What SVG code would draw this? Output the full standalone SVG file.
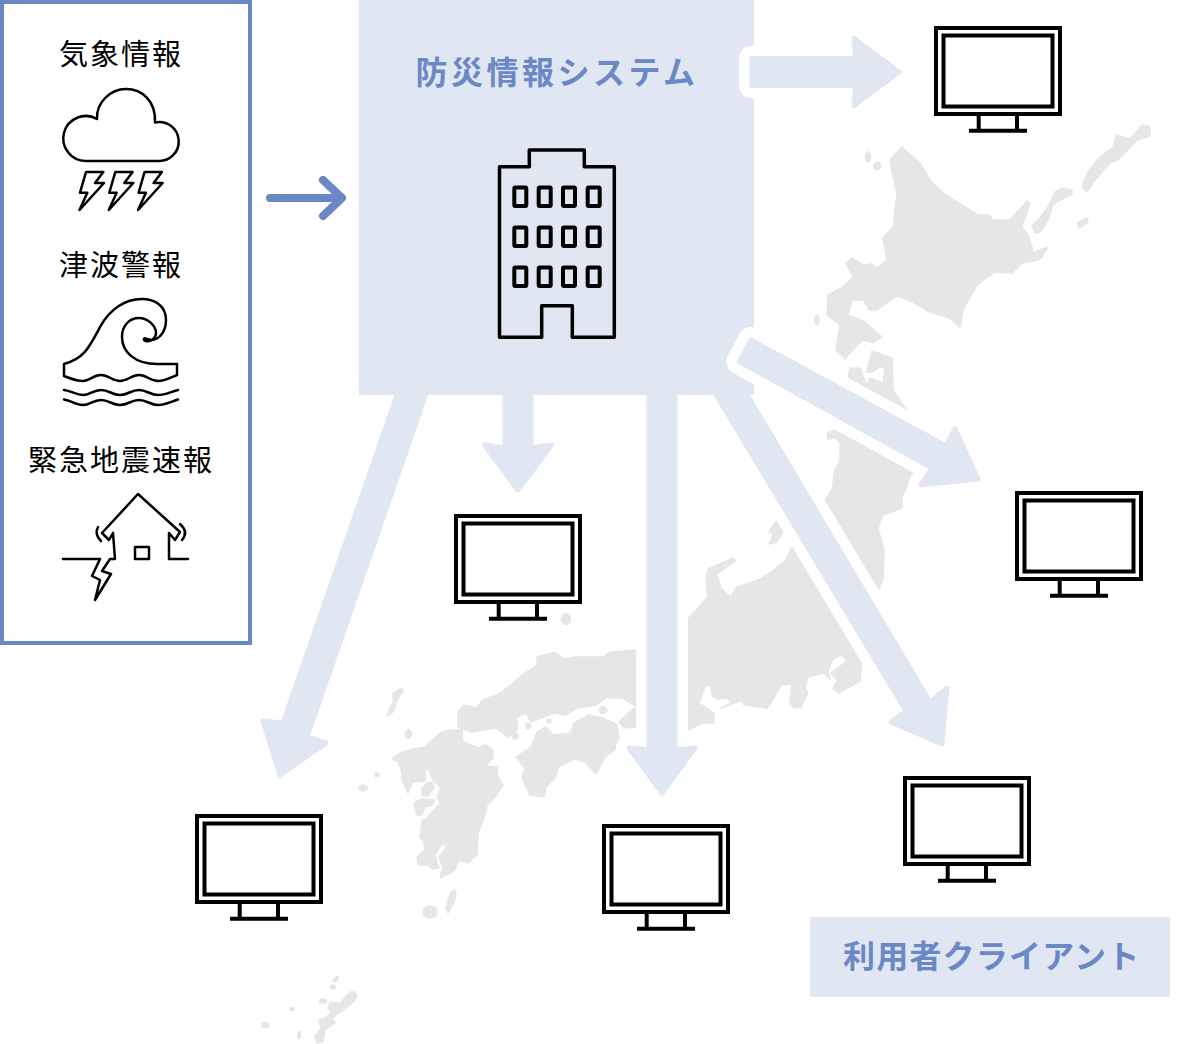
<svg xmlns="http://www.w3.org/2000/svg" width="1200" height="1044" viewBox="0 0 1200 1044">
<style>
.t{font-family:"Noto Sans CJK JP","Liberation Sans",sans-serif;}
.k{font-size:29px;fill:#000;letter-spacing:2px;text-anchor:middle}
.b{font-weight:700;fill:#6a88c5;font-size:32px}
.m path,.m ellipse{fill:#e6e6e6;stroke:#e6e6e6;stroke-width:1.5;stroke-linejoin:round}
.ar{fill:#e0e6f2;stroke:#e0e6f2;stroke-width:5;stroke-linejoin:round}
.ha{fill:#fff;stroke:#fff;stroke-width:26;stroke-linejoin:round}
.pc{fill:#fff;stroke:#000;stroke-width:4}
.pl{fill:none;stroke:#000;stroke-width:4}
.ic{fill:none;stroke:#000;stroke-width:2.5;stroke-linejoin:round;stroke-linecap:round}
</style>
<defs>
<g id="pc">
<rect class="pc" x="2" y="2" width="124" height="86"/>
<rect class="pc" x="9.5" y="9.5" width="109" height="71"/>
<path class="pl" d="M44.7 88V104.7M83 88V104.7M35 104.7H93"/>
</g>
<polygon id="aV" points="649,388 649,750 629,748 662,793 695,748 675,750 675,388"/>
<polygon id="aL" points="712,388 906,711 891,722 942,744 947,688 930,702 743,388"/>
<polygon id="aT" points="752,58.5 856,58.5 854,38.500 899,72 854,105.500 856,85.5 752,85.5"/>
<polygon id="aD" points="751,340 946,446 955,429 978,479 921,485 932,468 739.5,361.5"/>
</defs>
<rect width="1200" height="1044" fill="#fff"/>
<g id="map" class="m">
<path d="M902 147L890 160L892 172L897 193L893 227L883 238L887 260L877 268L872 264L863 265L852 258L846 263L853 277L843 287L828 295L827 315L840 325L836 350L845 359L855 347L863 340L873 343L882 337L865 322L848 315L852 300L863 300L870 310L877 310L897 296L913 302L930 312L950 318L960 328L963 310L977 285L995 272L1012 273L1015 270L1022 263L1028 262L1038 260L1042 257L1048 247L1040 250L1033 253L1032 247L1028 235L1022 227L1030 203L1027 201L1010 220L993 220L989 215L978 215L970 210L943 193L930 180L920 163Z"/>
<path d="M1150 127L1142 125L1130 139L1116 135L1113 148L1105 153L1097 160L1088 172L1082 187L1087 192L1095 180L1110 163L1118 160L1130 147L1138 140L1150 136Z"/>
<path d="M1072 190L1062 188L1055 192L1048 207L1040 218L1032 226L1035 233L1040 232L1048 220L1053 205L1062 199L1072 194Z"/>
<path d="M1077 223L1087 218L1088 222L1080 228Z"/>
<ellipse cx="868" cy="157" rx="2.5" ry="5"/>
<ellipse cx="877" cy="166" rx="3.5" ry="4"/>
<ellipse cx="817" cy="320" rx="2" ry="4.5"/>
<path d="M872 351L892 358L893 390L907 410L848 377L850 368L860 368L866 385L870 378L883 383L885 368L880 367L873 372L867 372Z"/>
<path d="M827 433L834 430L913 473L907 487L902 497L902 508L883 515L878 528L884 550L883 580L879 589L825 500L832 490L835 470L840 460L840 443L835 438L828 439Z"/>
<path d="M777 520L783 532L777 542L769 544L773 535L769 532Z"/>
<path d="M688 619L708 597L706 579L708 569L733 558L735 561L717 574L721 588L730 597L737 587L756 581L767 575L785 561L792 547L862 662L860 681L849 687L839 693L833 689L837 680L831 673L847 661L842 655L833 659L828 671L830 680L824 673L808 677L805 687L808 693L801 707L794 708L790 703L792 684L781 685L774 698L767 708L744 705L742 700L721 708L731 703L728 698L717 699L712 696L711 685L705 687L699 703L714 713L714 723L703 723L688 730Z"/>
<path d="M636 650L610 652L603 657L574 657L564 659L555 652L537 657L537 665L522 675L501 693L483 700L476 708L464 705L458 712L458 727L471 732L496 728L508 737L517 730L517 717L526 713L531 722L555 713L565 715L578 708L596 705L606 698L622 698L636 706Z"/>
<path d="M516 757L531 747L537 732L546 727L553 735L571 733L574 723L589 715L603 718L617 725L619 738L615 750L605 757L596 774L585 762L574 759L558 767L556 777L546 787L544 797L530 795L522 778L525 768Z"/>
<path d="M619 722L635 707L636 727L624 728Z"/>
<ellipse cx="603" cy="710" rx="4" ry="3.5"/>
<path d="M440 733L450 730L462 730L463 742L478 748L485 745L493 750L493 758L485 766L498 767L497 775L503 785L495 797L487 805L485 815L478 833L477 855L468 863L458 860L455 870L440 878L443 867L439 857L447 847L442 843L435 855L439 868L432 869L428 865L418 865L417 857L425 850L424 842L420 837L422 820L425 820L440 803L437 797L441 788L433 780L428 768L425 770L425 781L413 782L408 793L402 780L402 772L398 762L392 759L400 753L413 749L425 747L430 742Z"/>
<path d="M422 788L427 783L432 782L434 788L428 796L422 796Z"/>
<path d="M414 803L422 799L435 800L433 805L425 807L422 815L417 815Z"/>
<path d="M402 688L393 693L393 703L390 707L387 716L393 712L395 707L397 700L403 691Z"/>
<ellipse cx="408.500" cy="734" rx="3" ry="4.500"/>
<ellipse cx="363" cy="788" rx="4" ry="3"/>
<ellipse cx="377" cy="775" rx="2" ry="2"/>
<ellipse cx="566" cy="619" rx="4.5" ry="5.5"/>
<ellipse cx="515" cy="736" rx="3" ry="3"/>
<ellipse cx="528" cy="726" rx="2.5" ry="3"/>
<ellipse cx="549" cy="721" rx="2" ry="2"/>
<ellipse cx="430" cy="912" rx="7" ry="6"/>
<path d="M455 890L451 892L448 900L446 908L448 913L452 906L456 896Z"/>
<path d="M355 992L350 992L340 1003L330 1002L328 1008L332 1012L325 1018L319 1020L321 1028L315 1037L317 1043L323 1042L325 1030L335 1023L332 1018L350 1005L357 997Z"/>
<ellipse cx="323" cy="1001" rx="3.5" ry="2"/>
<ellipse cx="333" cy="987" rx="2.5" ry="2"/>
<ellipse cx="336" cy="979" rx="3.5" ry="1.5" transform="rotate(-50 336 979)"/>
<ellipse cx="292" cy="1009" rx="2" ry="1.5"/>
<ellipse cx="265" cy="1025" rx="3.5" ry="2.5"/>
<ellipse cx="299" cy="1035" rx="1.5" ry="3.5"/>
</g>
<g id="connectors-back">
<use href="#aV" class="ha"/>
<use href="#aL" class="ha"/>
</g>
<g id="system">
<rect x="359" y="0" width="395" height="395" fill="#e0e6f2"/>
<text class="t b" x="415.5" y="84" letter-spacing="3.5">防災情報システム</text>
<g fill="none" stroke="#000" stroke-width="3.5" stroke-linejoin="round">
<path d="M499.5 166.7H529.3V150H584.3V166.7H614.3V337.3H572.3V305.7H541.7V337.3H499.5Z"/>
<g stroke-width="4">
<rect x="514.3" y="187.5" width="12" height="18.5" rx="1"/><rect x="538.7" y="187.5" width="12" height="18.5" rx="1"/><rect x="563" y="187.5" width="12" height="18.5" rx="1"/><rect x="587.7" y="187.5" width="12" height="18.5" rx="1"/>
<rect x="514.3" y="227.5" width="12" height="18.5" rx="1"/><rect x="538.7" y="227.5" width="12" height="18.5" rx="1"/><rect x="563" y="227.5" width="12" height="18.5" rx="1"/><rect x="587.7" y="227.5" width="12" height="18.5" rx="1"/>
<rect x="514.3" y="267.5" width="12" height="18.5" rx="1"/><rect x="538.7" y="267.5" width="12" height="18.5" rx="1"/><rect x="563" y="267.5" width="12" height="18.5" rx="1"/><rect x="587.7" y="267.5" width="12" height="18.5" rx="1"/>
</g>
</g>
</g>
<g id="connectors">
<use href="#aV" class="ar"/>
<use href="#aL" class="ar"/>
<polygon class="ar" points="505,388 505,448 484.500,445 518,490 551.500,445 531,448 531,388"/>
<polygon class="ar" points="399.500,388 283,723 263,721 280,775 326,743 307,737 428,388"/>
<use href="#aT" class="ha"/>
<use href="#aT" class="ar"/>
<use href="#aD" class="ha"/>
<use href="#aD" class="ar"/>
<path d="M270 198H341M323 180L342 198L323 216" fill="none" stroke="#6a88c5" stroke-width="8" stroke-linecap="round" stroke-linejoin="round"/>
</g>
<g id="alerts">
<rect x="2" y="2" width="248" height="641" fill="#fff" stroke="#6a88c5" stroke-width="4"/>
<g id="weather">
<text class="t k" x="121" y="65">気象情報</text>
<path class="ic" d="M86 161H158A19.5 19.5 0 1 0 155 122.5C156 101 142 89 126 89C110 89 96 103 97 119A22.5 22.5 0 1 0 86 161Z"/>
<g id="bolts">
<path class="ic" d="M86 172H103.3L95 183H104L79.5 210L87.3 192.7H80Z"/>
<path class="ic" d="M115.3 172H132.6L124.3 183H133.3L108.8 210L116.6 192.7H109.3Z"/>
<path class="ic" d="M144.6 172H161.9L153.6 183H162.6L138.1 210L145.9 192.7H138.6Z"/>
</g>
</g>
<g id="tsunami">
<text class="t k" x="121" y="276">津波警報</text>
<path class="ic" d="M64 364V376C72 379 76 381 83 381C90 381 93 375 101 375C109 375 112 381 120 381C128 381 131 375 139 375C147 375 150 381 158 381C165 381 170 378 177 375V364H157C135 364 122 352 122 337C122 325 130 318 139 318C148 318 156 326 156 333C156 339 150 342 146 341C143 340 143 337 147 339C158 343 166 332 166 320C166 306 155 299 142 299C125 299 110 309 100 327C90 346 85 358 64 364Z"/>
<path class="ic" d="M64 390C72 391 76 395 83 395C90 395 93 390 101 390C109 390 112 395 120 395C128 395 131 390 139 390C147 390 150 395 158 395C165 395 170 392 178 390"/>
<path class="ic" d="M64 399.500C72 401 76 405 83 405C90 405 93 400 101 400C109 400 112 405 120 405C128 405 131 400 139 400C147 400 150 405 158 405C165 405 170 402 178 399.500"/>
</g>
<g id="earthquake">
<text class="t k" x="121" y="471">緊急地震速報</text>
<path class="ic" d="M113 533L109 540L102 533L138 494L180 532L175 540L169 533V559H188M113 533L115 559H110L102 571L111 574L95 600L100 580L92 576L100 559H63"/>
<rect class="ic" x="135" y="547" width="14" height="12"/>
<path class="ic" d="M98 527Q94 534 101 541M180 524Q189 532 182 540"/>
</g>
</g>
<g id="client-1"><use href="#pc" x="934" y="26"/></g>
<g id="client-2"><use href="#pc" x="1015" y="491"/></g>
<g id="client-3"><use href="#pc" x="454" y="514"/></g>
<g id="client-4"><use href="#pc" x="195" y="814"/></g>
<g id="client-5"><use href="#pc" x="602" y="824"/></g>
<g id="client-6"><use href="#pc" x="903" y="776"/></g>
<g id="client-label">
<rect x="810" y="917" width="360" height="80" fill="#e0e6f2"/>
<text class="t b" x="843" y="968" letter-spacing="1.200">利用者クライアント</text>
</g>
</svg>
